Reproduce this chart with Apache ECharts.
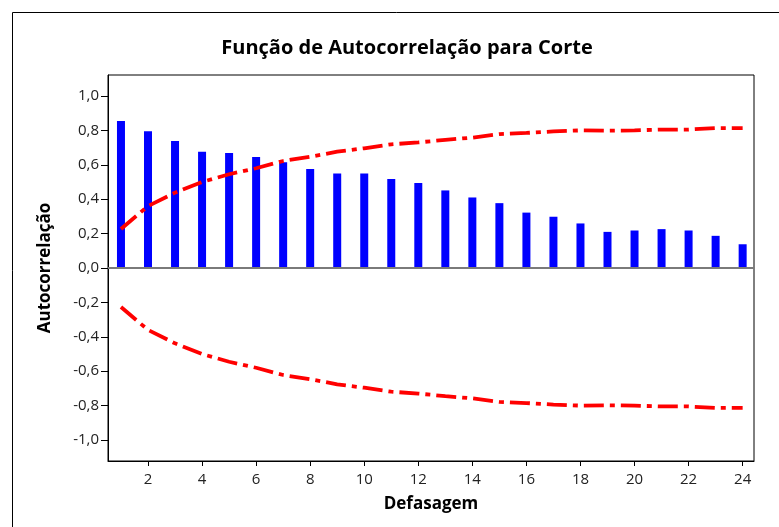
<!DOCTYPE html>
<html>
<head>
<meta charset="utf-8">
<script src="https://cdn.jsdelivr.net/npm/echarts@6/dist/echarts.min.js"></script>
<style>
  html, body { margin: 0; padding: 0; background: #fff; }
  #chart { width: 779px; height: 527px; }
</style>
</head>
<body>
<div id="chart"></div>
<script>
const lags = [1, 2, 3, 4, 5, 6, 7, 8, 9, 10, 11, 12, 13, 14, 15, 16, 17, 18, 19, 20, 21, 22, 23, 24];
const acf = [0.855, 0.795, 0.738, 0.676, 0.668, 0.645, 0.615, 0.575, 0.55, 0.55, 0.517, 0.494,
             0.451, 0.41, 0.377, 0.322, 0.298, 0.259, 0.21, 0.218, 0.226, 0.218, 0.187, 0.138];
const upperLimit = [0.227, 0.36, 0.438, 0.5, 0.545, 0.58, 0.622, 0.647, 0.676, 0.696, 0.719, 0.73,
                    0.745, 0.758, 0.778, 0.785, 0.794, 0.8, 0.798, 0.8, 0.805, 0.805, 0.813, 0.813];
const lowerLimit = [-0.227, -0.36, -0.438, -0.5, -0.545, -0.58, -0.622, -0.647, -0.676, -0.696, -0.719, -0.73,
                    -0.745, -0.758, -0.778, -0.785, -0.794, -0.8, -0.798, -0.8, -0.805, -0.805, -0.813, -0.813];
const xTicks = [2, 4, 6, 8, 10, 12, 14, 16, 18, 20, 22, 24];
const yTicks = [-1.0, -0.8, -0.6, -0.4, -0.2, 0.0, 0.2, 0.4, 0.6, 0.8, 1.0];

const FONT = 'Open Sans';
const pair = arr => lags.map((l, i) => [l, arr[i]]);
const limitStyle = { color: '#ff0000', width: 3.8, type: [20, 6, 5, 6] };

const chart = echarts.init(document.getElementById('chart'), null, { renderer: 'canvas' });
chart.setOption({
  animation: false,
  textStyle: { fontFamily: FONT },
  title: {
    text: 'Função de Autocorrelação para Corte',
    left: 402, top: 33, textAlign: 'center',
    textStyle: { fontFamily: FONT, fontWeight: 'bold', fontSize: 20, color: '#000' }
  },
  graphic: [{
    type: 'rect', silent: true,
    shape: { x: 12.5, y: 12.5, width: 800, height: 600 },
    style: { fill: null, stroke: '#000', lineWidth: 1 }
  }],
  grid: { left: 108, top: 75, right: 25, bottom: 66, show: true, borderColor: '#000', borderWidth: 1, backgroundColor: 'transparent' },
  xAxis: {
    type: 'value', min: 0.52, max: 24.42,
    name: 'Defasagem', nameLocation: 'middle', nameGap: 35,
    nameTextStyle: { fontFamily: FONT, fontWeight: 'bold', fontSize: 17, color: '#000' },
    axisLine: { show: true, onZero: false, lineStyle: { color: '#000', width: 1 } },
    axisTick: { show: true, length: 5, lineStyle: { color: '#000' }, customValues: xTicks },
    axisLabel: { color: '#222', fontSize: 15, margin: 11, customValues: xTicks },
    splitLine: { show: false }
  },
  yAxis: {
    type: 'value', min: -1.122, max: 1.122,
    name: 'Autocorrelação', nameLocation: 'middle', nameGap: 54, nameRotate: 90,
    nameTextStyle: { fontFamily: FONT, fontWeight: 'bold', fontSize: 17, color: '#000' },
    axisLine: { show: true, lineStyle: { color: '#000', width: 1 } },
    axisTick: { show: true, length: 7, lineStyle: { color: '#000' }, customValues: yTicks },
    axisLabel: {
      color: '#222', fontSize: 15, margin: 9, customValues: yTicks,
      formatter: v => (Math.abs(v) < 1e-9 ? 0 : v).toFixed(1).replace('.', ',')
    },
    splitLine: { show: false }
  },
  series: [
    {
      type: 'bar', data: pair(acf), barWidth: 8,
      itemStyle: { color: '#0000ff' },
      markLine: {
        silent: true, symbol: 'none', label: { show: false },
        lineStyle: { color: '#7a7a7a', width: 2, type: 'solid' },
        data: [{ yAxis: 0 }]
      },
      z: 2
    },
    { type: 'line', data: pair(upperLimit), showSymbol: false, lineStyle: limitStyle, z: 3 },
    { type: 'line', data: pair(lowerLimit), showSymbol: false, lineStyle: limitStyle, z: 3 }
  ]
});
</script>
</body>
</html>
